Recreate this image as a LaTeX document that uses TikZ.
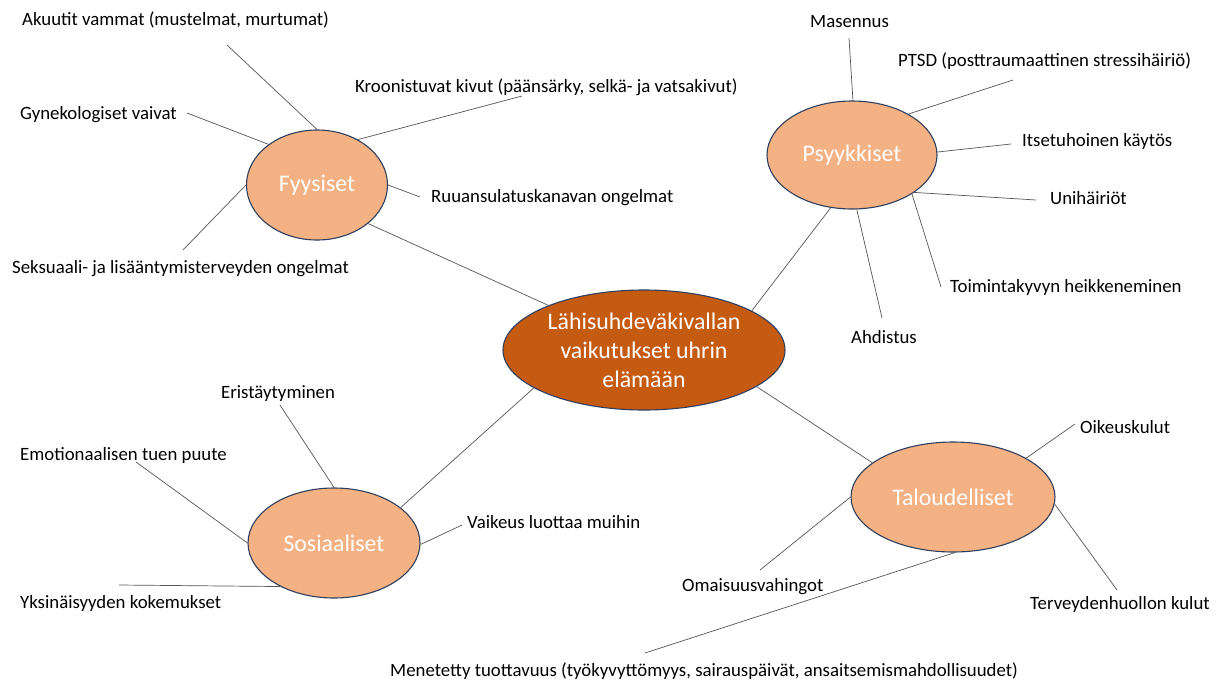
\documentclass[tikz,border=0pt]{standalone}
\usepackage{fontspec}
\setmainfont{Carlito}
\usetikzlibrary{shapes.geometric}
\definecolor{central}{HTML}{C55A11}
\definecolor{cat}{HTML}{F4B183}
\definecolor{rim}{HTML}{2F3F5F}
\definecolor{conn}{HTML}{555555}
\tikzset{
  hub/.style={ellipse, draw=rim, line width=1.1pt, fill=central, text=white, inner sep=0pt,
              align=center, font=\fontsize{23.8}{29}\selectfont},
  catnode/.style={ellipse, draw=rim, line width=1.1pt, fill=cat, text=white, inner sep=0pt,
              font=\fontsize{23.8}{28}\selectfont},
  lbl/.style={anchor=west, inner sep=0pt, font=\fontsize{18.8}{22}\selectfont},
  link/.style={draw=conn, line width=0.7pt},
}
\begin{document}
\begin{tikzpicture}[x=1pt,y=-1pt]
\useasboundingbox (0,0) rectangle (1227,681);
\fill[white] (0,0) rectangle (1227,681);

% main ellipses
\node[hub, minimum width=282pt, minimum height=120pt] (c) at (644,350)
  {Lähisuhdeväkivallan\\vaikutukset uhrin\\elämään};
\node[catnode, minimum width=141pt, minimum height=110pt] (fy) at (317,185) {Fyysiset};
\node[catnode, minimum width=170pt, minimum height=108pt] (ps) at (852,155) {Psyykkiset};
\node[catnode, minimum width=172pt, minimum height=110pt] (so) at (334,543) {Sosiaaliset};
\node[catnode, minimum width=204pt, minimum height=110pt] (ta) at (953,497) {Taloudelliset};

% labels
\node[lbl] (l1) at (22,20) {Akuutit vammat (mustelmat, murtumat)};
\node[lbl] (l2) at (355,87) {Kroonistuvat kivut (päänsärky, selkä- ja vatsakivut)};
\node[lbl] (l3) at (20,115) {Gynekologiset vaivat};
\node[lbl] (l4) at (431,198) {Ruuansulatuskanavan ongelmat};
\node[lbl] (l5) at (12,269) {Seksuaali- ja lisääntymisterveyden ongelmat};
\node[lbl] (p1) at (810,22) {Masennus};
\node[lbl] (p2) at (898,61) {PTSD (posttraumaattinen stressihäiriö)};
\node[lbl] (p3) at (1022,141) {Itsetuhoinen käytös};
\node[lbl] (p4) at (1050,198) {Unihäiriöt};
\node[lbl] (p5) at (950,287) {Toimintakyvyn heikkeneminen};
\node[lbl] (p6) at (851,337) {Ahdistus};
\node[lbl] (s1) at (221,394) {Eristäytyminen};
\node[lbl] (s2) at (20,455) {Emotionaalisen tuen puute};
\node[lbl] (s3) at (467,522) {Vaikeus luottaa muihin};
\node[lbl] (s4) at (20,603) {Yksinäisyyden kokemukset};
\node[lbl] (t1) at (1080,427) {Oikeuskulut};
\node[lbl] (t2) at (682,587) {Omaisuusvahingot};
\node[lbl] (t3) at (1030,604) {Terveydenhuollon kulut};
\node[lbl] (t4) at (390,671) {Menetetty tuottavuus (työkyvyttömyys, sairauspäivät, ansaitsemismahdollisuudet)};

% free ends of connectors near labels
\coordinate (e1) at (227,45);
\coordinate (e2) at (522,96);
\coordinate (e3) at (187,113);
\coordinate (e4) at (420,197);
\coordinate (e5) at (183,250);
\coordinate (q1) at (849,38);
\coordinate (q2) at (1013,80);
\coordinate (q3) at (1011,144);
\coordinate (q4) at (1036,200);
\coordinate (q5) at (941,287);
\coordinate (q6) at (882,318);
\coordinate (r1) at (280,405);
\coordinate (r2) at (136,462);
\coordinate (r3) at (462,525);
\coordinate (r4) at (119,585);
\coordinate (u1) at (1075,424);
\coordinate (u2) at (760,570);
\coordinate (u3) at (1117,590);
\coordinate (u4) at (645,653);

% hub to categories
\draw[link] (c.155) -- (fy.-37);
\draw[link] (c.20) -- (ps.-112);
\draw[link] (c.-18) -- (ta.157);
\draw[link] (c.-161) -- (so.28);

% Fyysiset
\draw[link] (fy.90) -- (e1);
\draw[link] (fy.48) -- (e2);
\draw[link] (fy.140) -- (e3);
\draw[link] (fy.0) -- (e4);
\draw[link] (fy.180) -- (e5);

% Psyykkiset
\draw[link] (ps.89) -- (q1);
\draw[link] (ps.36) -- (q2);
\draw[link] (ps.2) -- (q3);
\draw[link] (ps.-31) -- (q4);
\draw[link] (ps.-33) -- (q5);
\draw[link] (ps.-85) -- (q6);

% Sosiaaliset
\draw[link] (so.90) -- (r1);
\draw[link] (so.180) -- (r2);
\draw[link] (so.-1) -- (r3);
\draw[link] (so.-141) -- (r4);

% Taloudelliset
\draw[link] (ta.28) -- (u1);
\draw[link] (ta.180) -- (u2);
\draw[link] (ta.-4) -- (u3);
\draw[link] (ta.-88) -- (u4);
\end{tikzpicture}
\end{document}
